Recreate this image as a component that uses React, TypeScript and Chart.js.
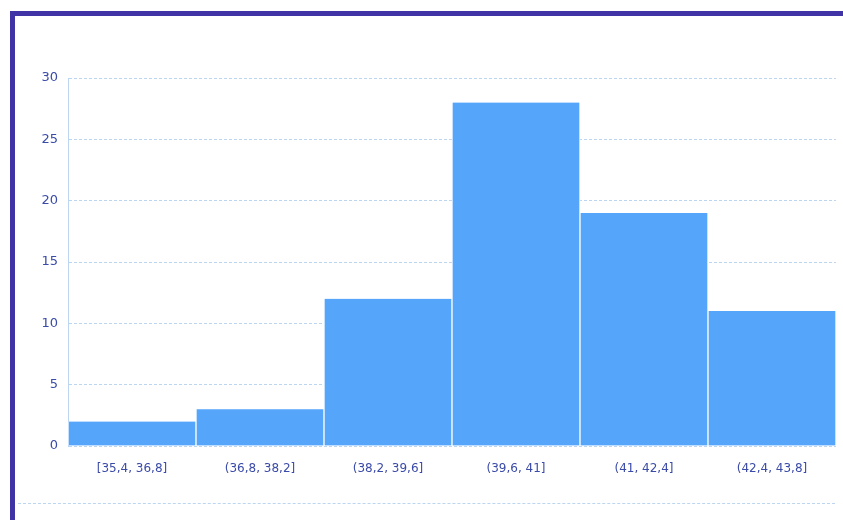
import React, { useEffect, useRef } from "react";
import { Chart, registerables } from "chart.js";
Chart.register(...registerables);

const categories = ["[35,4, 36,8]", "(36,8, 38,2]", "(38,2, 39,6]", "(39,6, 41]", "(41, 42,4]", "(42,4, 43,8]"];
const counts = [2, 3, 12, 28, 19, 11];
const yTicks = [0, 5, 10, 15, 20, 25, 30];

export default function App() {
  const ref = useRef<HTMLCanvasElement>(null);
  useEffect(() => {
    document.body.style.margin = "0";
    const chart = new Chart(ref.current!, {
      type: "bar",
      data: {
        labels: categories,
        datasets: [{
          data: counts,
          backgroundColor: "#55a5fb",
          borderColor: "#ffffff",
          borderWidth: { left: 1, right: 1, top: 0, bottom: 0 },
          borderSkipped: false,
          barPercentage: 1,
          categoryPercentage: 1,
        }],
      },
      options: {
        animation: false,
        responsive: false,
        layout: { padding: { left: 0, top: 78, right: 7, bottom: 44 } },
        plugins: { legend: { display: false }, tooltip: { enabled: false } },
        scales: {
          x: {
            grid: { display: false },
            border: { display: false },
            ticks: { color: "#3a4ba8", font: { family: "DejaVu Sans", size: 12 }, padding: 8, maxRotation: 0 },
            afterFit: (s: any) => { s.height = 30; },
          },
          y: {
            min: 0, max: 30,
            afterBuildTicks: (s: any) => { s.ticks = yTicks.map((v) => ({ value: v })); },
            grid: { color: "#bcd6f2", drawTicks: false },
            border: { display: true, color: "#bcd6f2", dash: [3, 2] },
            ticks: { color: "#3a4ba8", font: { family: "DejaVu Sans", size: 13 }, padding: 10 },
            afterFit: (s: any) => { s.width = 68; },
          },
        },
      },
    });
    (chart.options.scales as any).y.grid.borderDash = [3, 2];
    chart.update();
    return () => chart.destroy();
  }, []);
  return (
    <div style={{ position: "relative", width: 843, height: 520, background: "#fff" }}>
      <canvas ref={ref} width={843} height={520} style={{ position: "absolute", left: 0, top: 0 }} />
      <div style={{ position: "absolute", left: 10, top: 11, right: 0, bottom: 0, borderLeft: "5px solid #3f33a6", borderTop: "5px solid #3f33a6" }} />
      <div style={{ position: "absolute", left: 18, top: 503, right: 8, borderTop: "1px dashed #bcd6f2" }} />
    </div>
  );
}
